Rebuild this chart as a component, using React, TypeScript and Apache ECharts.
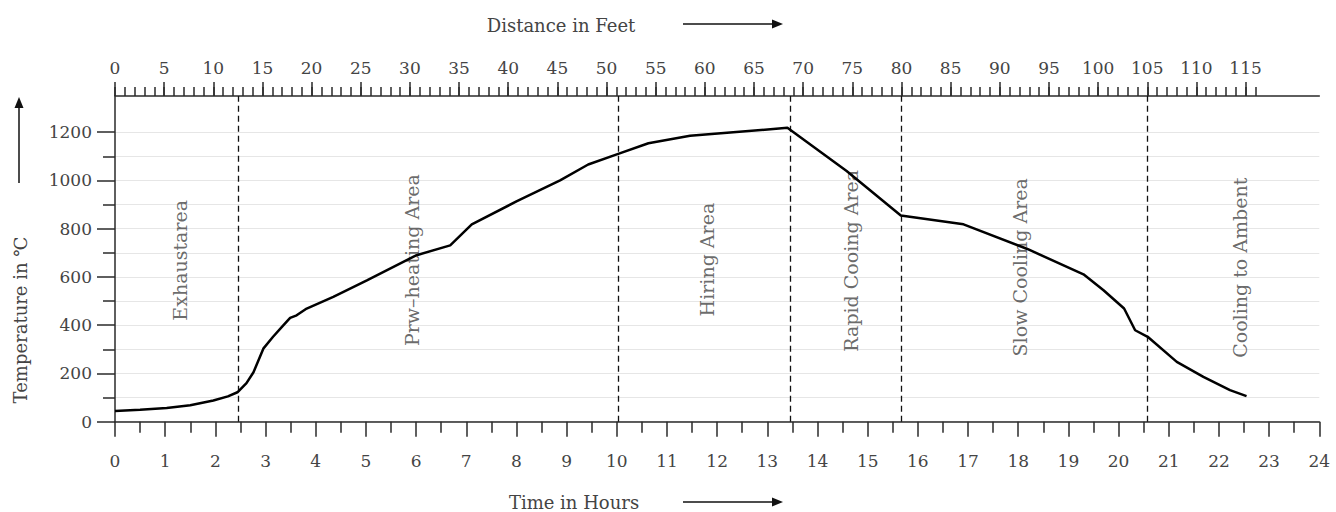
import React, { useEffect, useRef } from "react";
import * as echarts from "echarts";

// Temperature curve (time in hours, temperature in °C)
const curveHours = [0, 0.5, 1.03, 1.5, 1.96, 2.25, 2.44, 2.62, 2.76, 2.96, 3.15, 3.34, 3.49, 3.62, 3.82, 4.35, 5.02, 6.01, 6.68, 7.11, 8.0, 8.87, 9.43, 10.0, 10.63, 11.46, 12.32, 13.4, 14.58, 15.66, 16.91, 18.17, 19.3, 19.7, 20.11, 20.33, 20.58, 21.16, 21.69, 22.22, 22.55];
const curveTemps = [44, 50, 57, 68, 88, 105, 122, 160, 205, 304, 352, 396, 430, 441, 469, 517, 586, 690, 731, 818, 913, 1000, 1066, 1108, 1154, 1185, 1200, 1218, 1039, 855, 818, 717, 611, 545, 469, 379, 352, 248, 186, 131, 106];

// Zone boundaries (hours)
const zoneBoundaries = [2.45, 10.02, 13.45, 15.66, 20.58];

// Zone labels
const zoneNames = ["Exhaustarea", "Prw–heating Area", "Hiring Area", "Rapid Cooing Area", "Slow Cooling Area", "Cooling to Ambent"];
const zoneLabelHours = [1.3, 5.91, 11.79, 14.67, 18.04, 22.42];
const zoneLabelTemps = [669, 670, 672, 667, 640, 638];

// Tick labels
const hourLabels = [0, 1, 2, 3, 4, 5, 6, 7, 8, 9, 10, 11, 12, 13, 14, 15, 16, 17, 18, 19, 20, 21, 22, 23, 24];
const feetLabels = [0, 5, 10, 15, 20, 25, 30, 35, 40, 45, 50, 55, 60, 65, 70, 75, 80, 85, 90, 95, 100, 105, 110, 115];
const feetMinorTicks = Array.from({ length: 117 }, (_, i) => i);
const tempLabels = [0, 200, 400, 600, 800, 1000, 1200];
const tempMinorTicks = [100, 300, 500, 700, 900, 1100];

const FONT = "'DejaVu Serif', serif";
const TEXT = "#444";
const AXIS = "#2a2a2a";

export default function App() {
  const ref = useRef<HTMLDivElement>(null);

  useEffect(() => {
    if (!ref.current) return;
    const chart = echarts.init(ref.current, null, { renderer: "svg" });

    const axisLine = { show: true, onZero: false, lineStyle: { color: AXIS, width: 1.5 } };
    const tickLine = { color: AXIS, width: 1.5 };
    const labelStyle = { color: TEXT, fontSize: 17, fontFamily: FONT, formatter: (v: number) => String(v) };

    const arrowH = (x1: number, x2: number, y: number) => [
      { type: "line", shape: { x1, y1: y, x2: x2 - 8, y2: y }, style: { stroke: "#111", lineWidth: 1.5 } },
      { type: "polygon", shape: { points: [[x2, y], [x2 - 11, y - 4.5], [x2 - 11, y + 4.5]] }, style: { fill: "#111" } },
    ];

    chart.setOption({
      animation: false,
      backgroundColor: "#fff",
      grid: { left: 115, right: 16.7, top: 96, bottom: 90.3, containLabel: false },
      xAxis: [
        {
          type: "value",
          position: "bottom",
          min: 0,
          max: 24,
          interval: 1,
          axisLine,
          axisTick: { show: true, length: 15, lineStyle: tickLine, customValues: hourLabels },
          minorTick: { show: true, splitNumber: 2, length: 11, lineStyle: tickLine },
          axisLabel: { ...labelStyle, margin: 31, customValues: hourLabels },
          splitLine: { show: false },
        },
        {
          type: "value",
          position: "top",
          min: 0,
          max: 122.5,
          axisLine,
          axisTick: { show: true, length: 9, lineStyle: tickLine, customValues: feetMinorTicks },
          axisLabel: { show: false },
          splitLine: { show: false },
        },
        {
          type: "value",
          position: "top",
          min: 0,
          max: 122.5,
          axisLine: { show: false, onZero: false },
          axisTick: { show: true, length: 14, lineStyle: tickLine, customValues: feetLabels },
          axisLabel: { ...labelStyle, margin: 20, customValues: feetLabels },
          splitLine: { show: false },
        },
      ],
      yAxis: [
        {
          type: "value",
          position: "left",
          min: 0,
          max: 1350,
          axisLine,
          axisTick: { show: true, length: 18, lineStyle: tickLine, customValues: tempLabels },
          axisLabel: { ...labelStyle, margin: 23, customValues: tempLabels },
          splitLine: { show: true, lineStyle: { color: "#e6e6e6", width: 1.2 } },
        },
        {
          type: "value",
          position: "left",
          min: 0,
          max: 1350,
          axisLine: { show: false, onZero: false },
          axisTick: { show: true, length: 12, lineStyle: tickLine, customValues: tempMinorTicks },
          axisLabel: { show: false },
          splitLine: { show: true, lineStyle: { color: "#e6e6e6", width: 1.2 } },
        },
      ],
      series: [
        {
          type: "line",
          name: "Temperature",
          xAxisIndex: 0,
          yAxisIndex: 0,
          data: curveHours.map((h, i) => [h, curveTemps[i]]),
          showSymbol: false,
          symbol: "none",
          lineStyle: { color: "#000", width: 2.5 },
          z: 5,
          markLine: {
            silent: true,
            symbol: "none",
            label: { show: false },
            lineStyle: { color: "#111", type: [6, 4], width: 1.3 },
            data: zoneBoundaries.map((b) => ({ xAxis: b })),
          },
        },
        {
          type: "scatter",
          name: "Zones",
          xAxisIndex: 0,
          yAxisIndex: 0,
          symbolSize: 0,
          silent: true,
          data: zoneNames.map((n, i) => ({ name: n, value: [zoneLabelHours[i], zoneLabelTemps[i]] })),
          label: {
            show: true,
            position: "inside",
            rotate: 90,
            formatter: (p: any) => p.name,
            color: TEXT,
            fontSize: 19,
            fontFamily: FONT,
          },
          z: 3,
        },
      ],
      graphic: [
        { type: "text", x: 561, y: 25, style: { text: "Distance in Feet", fill: TEXT, font: `18px ${FONT}`, align: "center", verticalAlign: "middle" } },
        ...arrowH(683, 783, 24),
        { type: "text", x: 574, y: 502, style: { text: "Time in Hours", fill: TEXT, font: `18px ${FONT}`, align: "center", verticalAlign: "middle" } },
        ...arrowH(683, 783, 502),
        { type: "text", x: 20, y: 320, rotation: Math.PI / 2, style: { text: "Temperature in ℃", fill: TEXT, font: `18px ${FONT}`, align: "center", verticalAlign: "middle" } },
        { type: "line", shape: { x1: 19, y1: 183, x2: 19, y2: 106 }, style: { stroke: "#111", lineWidth: 1.5 } },
        { type: "polygon", shape: { points: [[19, 97], [14.5, 108], [23.5, 108]] }, style: { fill: "#111" } },
      ],
    });

    return () => chart.dispose();
  }, []);

  return <div ref={ref} style={{ position: "absolute", left: 0, top: 0, width: 1336, height: 512 }} />;
}
